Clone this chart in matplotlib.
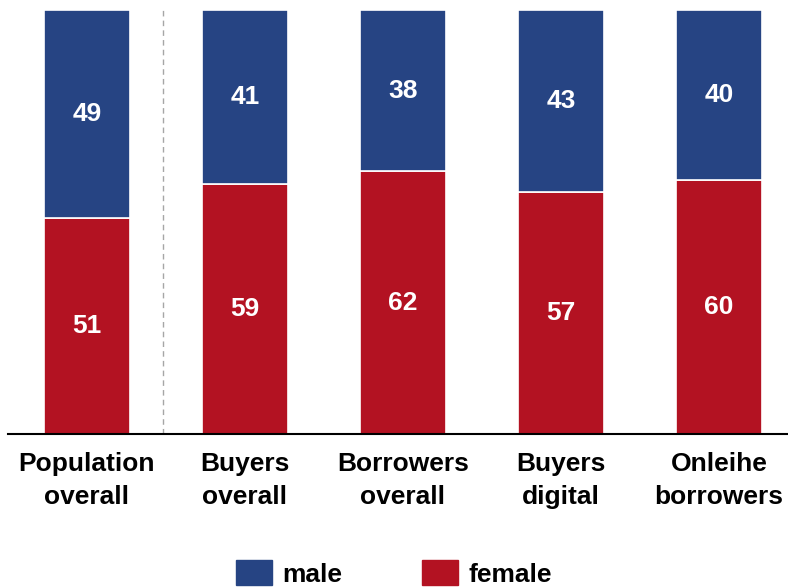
import matplotlib
matplotlib.use("Agg")
import matplotlib.pyplot as plt
from matplotlib.patches import Patch

plt.rcParams['font.family'] = ['Liberation Sans', 'DejaVu Sans']

categories = ["Population\noverall", "Buyers\noverall", "Borrowers\noverall",
              "Buyers\ndigital", "Onleihe\nborrowers"]
female = [51, 59, 62, 57, 60]
male = [49, 41, 38, 43, 40]

BLUE = "#264483"
RED = "#B31222"
FS = 19

fig = plt.figure(figsize=(7.88, 5.87), dpi=100)
ax = fig.add_axes([8 / 788, (587 - 434) / 587, 780 / 788, 424 / 587])

x = list(range(len(categories)))
w = 0.545
ax.bar(x, female, width=w, color=RED, edgecolor="white", linewidth=1.2)
ax.bar(x, male, width=w, bottom=female, color=BLUE, edgecolor="white", linewidth=1.2)

for i in x:
    ax.text(i, female[i] / 2, f"{female[i]}", ha="center", va="center",
            color="white", fontsize=FS, fontweight="bold")
    ax.text(i, female[i] + male[i] / 2, f"{male[i]}", ha="center", va="center",
            color="white", fontsize=FS, fontweight="bold")

ax.axvline(0.48, color="#A6A6A6", linestyle=(0, (4, 3)), linewidth=1.0, ymin=0, ymax=1)

ax.set_xlim(-0.5, 4.437)
ax.set_ylim(0, 100)
ax.set_xticks(x)
ax.set_xticklabels(categories, fontsize=FS, fontweight="bold", linespacing=1.45)
ax.tick_params(axis="x", length=0, pad=13)
ax.set_yticks([])
for s in ["top", "right", "left"]:
    ax.spines[s].set_visible(False)
ax.spines["bottom"].set_linewidth(1.5)
ax.spines["bottom"].set_color("black")

handles = [Patch(facecolor=BLUE, edgecolor=BLUE), Patch(facecolor=RED, edgecolor=RED)]
fig.legend(handles, ["male", "female"], loc="upper center",
           bbox_to_anchor=(0.5, (587 - 542) / 587), ncol=2, frameon=False,
           prop={"weight": "bold", "size": FS}, handlelength=1.36, handleheight=1.05,
           handletextpad=0.42, columnspacing=3.0, borderpad=0.2)

fig.savefig("out.png", dpi=100)
